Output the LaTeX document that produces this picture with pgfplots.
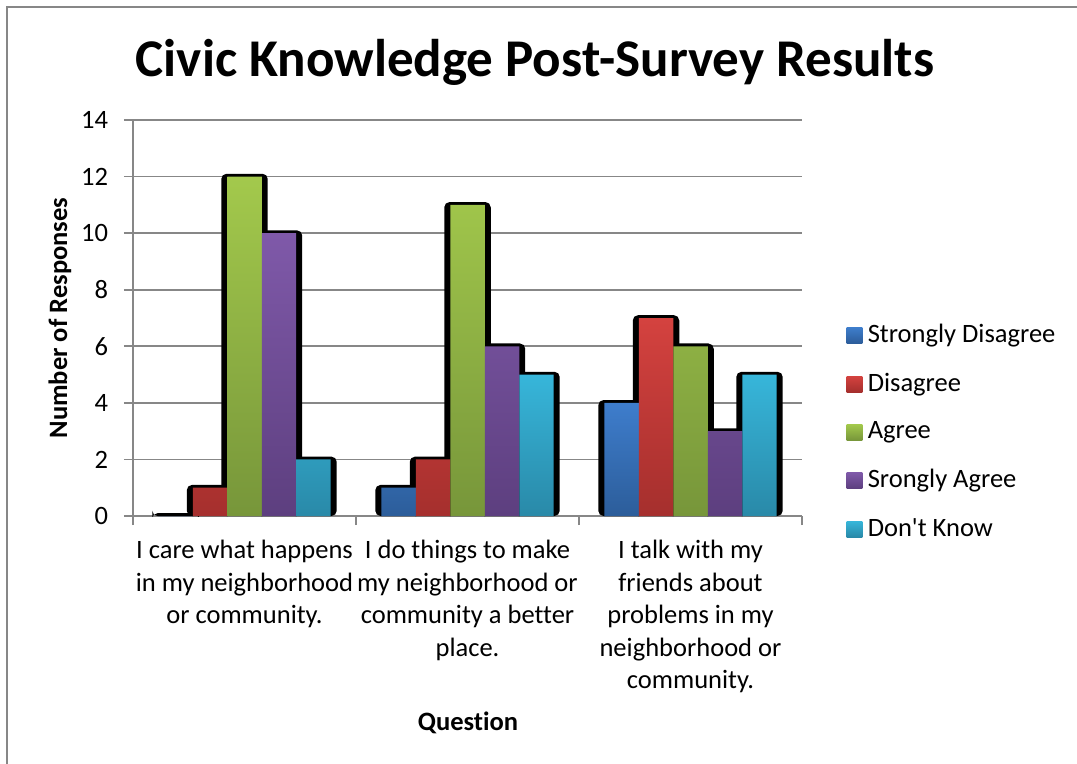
\documentclass[border=0pt]{standalone}
\usepackage{pgfplots}
\usepackage{pgfplotstable}
\pgfplotsset{compat=1.18}
\usepackage{fontspec}
\setmainfont{Carlito}[Ligatures={NoCommon}]
\definecolor{gridgray}{HTML}{878787}
\definecolor{blueT}{HTML}{3E7DCC}\definecolor{blueB}{HTML}{2C5D9A}
\definecolor{redT}{HTML}{D4423F}\definecolor{redB}{HTML}{A52F2D}
\definecolor{greenT}{HTML}{A3C94C}\definecolor{greenB}{HTML}{77963A}
\definecolor{purpleT}{HTML}{7F59A9}\definecolor{purpleB}{HTML}{5D3F7F}
\definecolor{cyanT}{HTML}{37B6DA}\definecolor{cyanB}{HTML}{2989A8}

\pgfplotstableread{
q sd d a sa dk
1 0 1 12 10 2
2 1 2 11 6 5
3 4 7 6 3 5
}\data

\begin{document}
\begin{tikzpicture}
\begin{scope}[x=0.377pt,y=-0.377pt]
\useasboundingbox (0,0) rectangle (1077,764);
\begin{scope}
\clip (0,0) rectangle (1077,764);
\draw[color=gridgray, line width=0.75pt] (1100,7) -- (7,7) -- (7,800);
\end{scope}
\node[font=\fontsize{20}{24}\selectfont\bfseries] at (535,62) {Civic Knowledge Post-Survey Results};
\node[font=\fontsize{10}{12}\selectfont\bfseries, rotate=90] at (60,318) {Number of Responses};
\node[font=\fontsize{10}{12}\selectfont\bfseries] at (468,723) {Question};
\end{scope}

\begin{axis}[
 at={(50.141pt,-194.532pt)}, anchor=south west,
 scale only axis, width=252.213pt, height=149.292pt,
 xmin=0.5, xmax=3.5, ymin=0, ymax=14, ytick={0,2,...,14},
 xtick={0.5,1.5,2.5,3.5}, x tick label as interval,
 xticklabels={{I care what happens\\in my neighborhood\\or community.},{I do things to make\\my neighborhood or\\community a better\\place.},{I talk with my\\friends about\\problems in my\\neighborhood or\\community.}},
 axis lines=left, axis line style={-, draw=gridgray, line width=0.6pt},
 ymajorgrids, grid style={gridgray, line width=0.6pt},
 tick align=outside, major tick length=3.4pt, tick style={gridgray, line width=0.6pt},
 ticklabel style={font=\fontsize{10}{12.2}\selectfont},
 /pgf/number format/assume math mode=true,
 yticklabel style={xshift=-2.5pt},
 xticklabel style={align=center, anchor=north, yshift=-2.3pt},
 legend style={at={(1.0658,0.212)}, anchor=west, draw=none, fill=none, inner sep=0pt, row sep=6pt, font=\fontsize{10}{12.2}\selectfont},
 legend cell align=left,
 legend image code/.code={\fill[#1] (0pt,-3pt) rectangle (6pt,3pt);},
]
\addplot[ybar, bar width=0.2085, bar shift=-0.3094, fill=black, draw=none, rounded corners=2pt, forget plot] table[x=q, y expr=\thisrow{sd}+0.1]{\data};
\addplot[ybar, bar width=0.2085, bar shift=-0.1547, fill=black, draw=none, rounded corners=2pt, forget plot] table[x=q, y expr=\thisrow{d}+0.1]{\data};
\addplot[ybar, bar width=0.2085, bar shift=0, fill=black, draw=none, rounded corners=2pt, forget plot] table[x=q, y expr=\thisrow{a}+0.1]{\data};
\addplot[ybar, bar width=0.2085, bar shift=0.1547, fill=black, draw=none, rounded corners=2pt, forget plot] table[x=q, y expr=\thisrow{sa}+0.1]{\data};
\addplot[ybar, bar width=0.2085, bar shift=0.3094, fill=black, draw=none, rounded corners=2pt, forget plot] table[x=q, y expr=\thisrow{dk}+0.1]{\data};

\addplot[ybar, bar width=0.1547, bar shift=-0.3094, draw=none, top color=blueT, bottom color=blueB] table[x=q, y=sd]{\data};
\addlegendentry{Strongly Disagree}
\addplot[ybar, bar width=0.1547, bar shift=-0.1547, draw=none, top color=redT, bottom color=redB] table[x=q, y=d]{\data};
\addlegendentry{Disagree}
\addplot[ybar, bar width=0.1547, bar shift=0, draw=none, top color=greenT, bottom color=greenB] table[x=q, y=a]{\data};
\addlegendentry{Agree}
\addplot[ybar, bar width=0.1547, bar shift=0.1547, draw=none, top color=purpleT, bottom color=purpleB] table[x=q, y=sa]{\data};
\addlegendentry{Srongly Agree}
\addplot[ybar, bar width=0.1547, bar shift=0.3094, draw=none, top color=cyanT, bottom color=cyanB] table[x=q, y=dk]{\data};
\addlegendentry{Don\textquotesingle t Know}
\end{axis}
\end{tikzpicture}
\end{document}
